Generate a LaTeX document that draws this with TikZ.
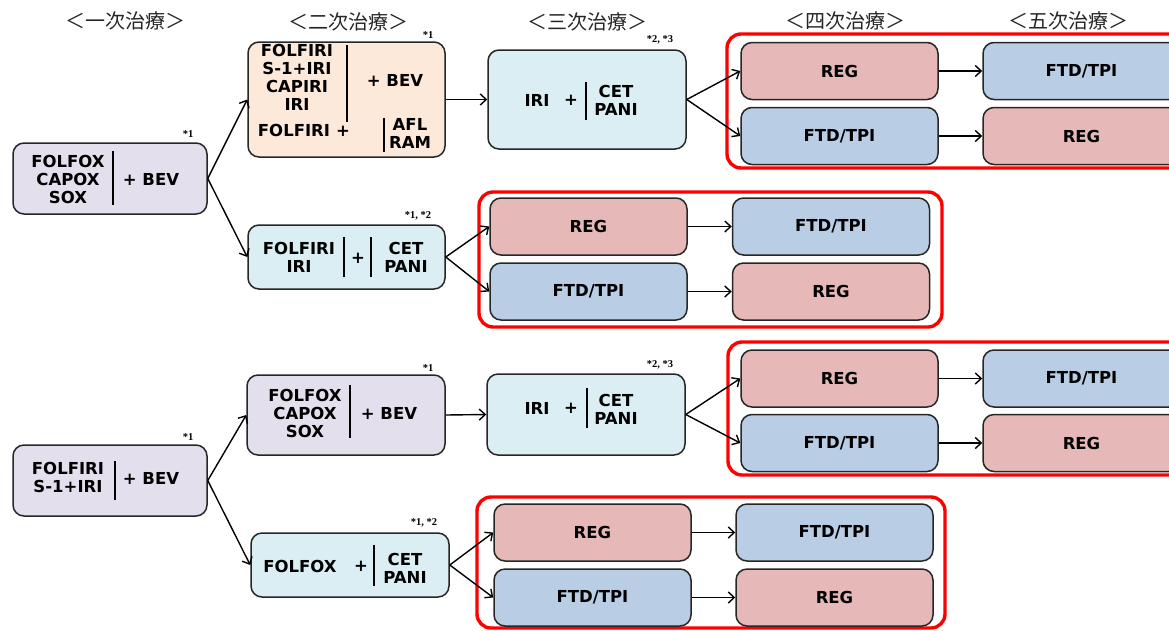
\documentclass[tikz,border=0pt]{standalone}
\usepackage{fontspec}
\setmainfont{DejaVu Sans}
\newfontfamily\jpfont{Noto Sans CJK JP}
\newfontfamily\notefont{Liberation Serif}
\usetikzlibrary{arrows.meta}

\definecolor{lavender}{HTML}{E4DFEC}
\definecolor{peach}{HTML}{FDE9D9}
\definecolor{iceblue}{HTML}{DAEEF3}
\definecolor{regpink}{HTML}{E6B9B8}
\definecolor{ftdblue}{HTML}{B9CDE5}
\definecolor{framered}{HTML}{FF0000}

\tikzset{
  box/.style={draw=black!85, line width=1.5pt, rounded corners=11pt, inner sep=0pt},
  small/.style={box, minimum width=197pt, minimum height=57pt,
    font=\bfseries\fontsize{16.5}{18}\selectfont},
  regbox/.style={small, fill=regpink},
  ftdbox/.style={small, fill=ftdblue},
  txt/.style={font=\bfseries\fontsize{16.5}{18}\selectfont, align=center, inner sep=0pt},
  bar/.style={line width=2.6pt, black},
  arr/.style={line width=1.4pt, black, -{Straight Barb[length=6pt,width=11pt,line width=1.4pt]}},
  frame/.style={draw=framered, line width=3.4pt, rounded corners=14pt},
  head/.style={font=\jpfont\fontsize{20}{22}\selectfont, text=black!85, inner sep=0pt},
  note/.style={font=\notefont\bfseries\fontsize{10.5}{11}\selectfont, inner sep=0pt},
}

\begin{document}
\begin{tikzpicture}[x=1pt, y=-1pt]
\useasboundingbox (0,0) rectangle (1169,630);
\clip (0,0) rectangle (1169,630);

% column headings
\node[head] (h1) at (125,21) {＜一次治療＞};
\node[head] (h2) at (348,22) {＜二次治療＞};
\node[head] (h3) at (587,22) {＜三次治療＞};
\node[head] (h4) at (845,21) {＜四次治療＞};
\node[head] (h5) at (1068,21) {＜五次治療＞};

% ---------- upper tree ----------
\node[box, fill=lavender, minimum width=194pt, minimum height=71pt] (a1) at (110,178.5) {};
\node[txt] (a1l) at (68,179) {FOLFOX\\CAPOX\\SOX};
\draw[bar] (113,151) -- (113,205);
\node[txt] (a1r) at (151,179) {+ BEV};
\node[note] (a1n) at (188,134) {*1};

\node[box, fill=peach, minimum width=197pt, minimum height=115pt] (b1) at (346.5,99.5) {};
\node[txt] (b1l) at (297,77) {FOLFIRI\\S-1+IRI\\CAPIRI\\IRI};
\draw[bar] (347,45) -- (347,122);
\node[txt] (b1r) at (395,80) {+ BEV};
\node[txt] (b1m) at (294,130) {FOLFIRI};
\node[txt] (b1p) at (343,131) {+};
\draw[bar] (384,118) -- (384,152);
\node[txt] (b1s) at (410,133) {AFL\\RAM};
\node[note] (b1n) at (428,35) {*1};

\node[box, fill=iceblue, minimum width=198pt, minimum height=99pt] (c1) at (587,99.5) {};
\node[txt] (c1l) at (537,100) {IRI};
\node[txt] (c1p) at (571,100) {+};
\draw[bar] (586,82) -- (586,120);
\node[txt] (c1r) at (616,100) {CET\\PANI};
\node[note] (c1n) at (660,40) {*2, *3};

\node[box, fill=iceblue, minimum width=197pt, minimum height=64pt] (d1) at (346.5,257) {};
\node[txt] (d1l) at (299,257.5) {FOLFIRI\\IRI};
\draw[bar] (344,237) -- (344,277);
\node[txt] (d1p) at (358,258) {+};
\draw[bar] (371,237) -- (371,277);
\node[txt] (d1r) at (406,257.5) {CET\\PANI};
\node[note] (d1n) at (418,216) {*1, *2};

\draw[frame] (727,34) rectangle (1192,168);
\node[regbox] (r1a) at (839.5,71) {REG};
\node[ftdbox] (r1b) at (1081.5,71) {FTD/TPI};
\node[ftdbox] (r1c) at (839.5,136) {FTD/TPI};
\node[regbox] (r1d) at (1081.5,136) {REG};

\draw[frame] (479,192) rectangle (942,327);
\node[regbox] (r2a) at (588.5,226.5) {REG};
\node[ftdbox] (r2b) at (831,226.5) {FTD/TPI};
\node[ftdbox] (r2c) at (588.5,291.5) {FTD/TPI};
\node[regbox] (r2d) at (831,291.5) {REG};

\draw[arr] (a1.east) -- (b1.west);
\draw[arr] (a1.east) -- (d1.west);
\draw[arr] (b1.east) -- (c1.west);
\draw[arr] (c1.east) -- (r1a.west);
\draw[arr] (c1.east) -- (r1c.west);
\draw[arr] (r1a) -- (r1b);
\draw[arr] (r1c) -- (r1d);
\draw[arr] (d1.east) -- (r2a.west);
\draw[arr] (d1.east) -- (r2c.west);
\draw[arr] (r2a) -- (r2b);
\draw[arr] (r2c) -- (r2d);

% ---------- lower tree ----------
\node[box, fill=lavender, minimum width=194pt, minimum height=71pt] (a2) at (110,480.5) {};
\node[txt] (a2l) at (68,477.5) {FOLFIRI\\S-1+IRI};
\draw[bar] (115,461) -- (115,500);
\node[txt] (a2r) at (151,478) {+ BEV};
\node[note] (a2n) at (188,437) {*1};

\node[box, fill=lavender, minimum width=198pt, minimum height=80pt] (b2) at (346,415) {};
\node[txt] (b2l) at (305,413.5) {FOLFOX\\CAPOX\\SOX};
\draw[bar] (350,385) -- (350,438);
\node[txt] (b2r) at (389,413) {+ BEV};
\node[note] (b2n) at (428,368) {*1};

\node[box, fill=iceblue, minimum width=198pt, minimum height=81pt] (c2) at (586,414.5) {};
\node[txt] (c2l) at (537,408) {IRI};
\node[txt] (c2p) at (571,408) {+};
\draw[bar] (587,388) -- (587,428);
\node[txt] (c2r) at (616,409) {CET\\PANI};
\node[note] (c2n) at (660,365) {*2, *3};

\node[box, fill=iceblue, minimum width=198pt, minimum height=64pt] (d2) at (350,565) {};
\node[txt] (d2l) at (300,566) {FOLFOX};
\node[txt] (d2p) at (361,566) {+};
\draw[bar] (374,545) -- (374,586);
\node[txt] (d2r) at (405,568) {CET\\PANI};
\node[note] (d2n) at (424,523) {*1, *2};

\draw[frame] (728,342) rectangle (1192,475);
\node[regbox] (r3a) at (839.5,378.5) {REG};
\node[ftdbox] (r3b) at (1081.5,378.5) {FTD/TPI};
\node[ftdbox] (r3c) at (839.5,443) {FTD/TPI};
\node[regbox] (r3d) at (1081.5,443) {REG};

\draw[frame] (477,497) rectangle (945,628);
\node[regbox] (r4a) at (592.5,532.5) {REG};
\node[ftdbox] (r4b) at (834.5,532.5) {FTD/TPI};
\node[ftdbox] (r4c) at (592.5,597.5) {FTD/TPI};
\node[regbox] (r4d) at (834.5,597.5) {REG};

\draw[arr] (a2.east) -- (b2.west);
\draw[arr] (a2.east) -- (d2.west);
\draw[arr] (b2.east) -- (c2.west);
\draw[arr] (c2.east) -- (r3a.west);
\draw[arr] (c2.east) -- (r3c.west);
\draw[arr] (r3a) -- (r3b);
\draw[arr] (r3c) -- (r3d);
\draw[arr] (d2.east) -- (r4a.west);
\draw[arr] (d2.east) -- (r4c.west);
\draw[arr] (r4a) -- (r4b);
\draw[arr] (r4c) -- (r4d);
\end{tikzpicture}
\end{document}
